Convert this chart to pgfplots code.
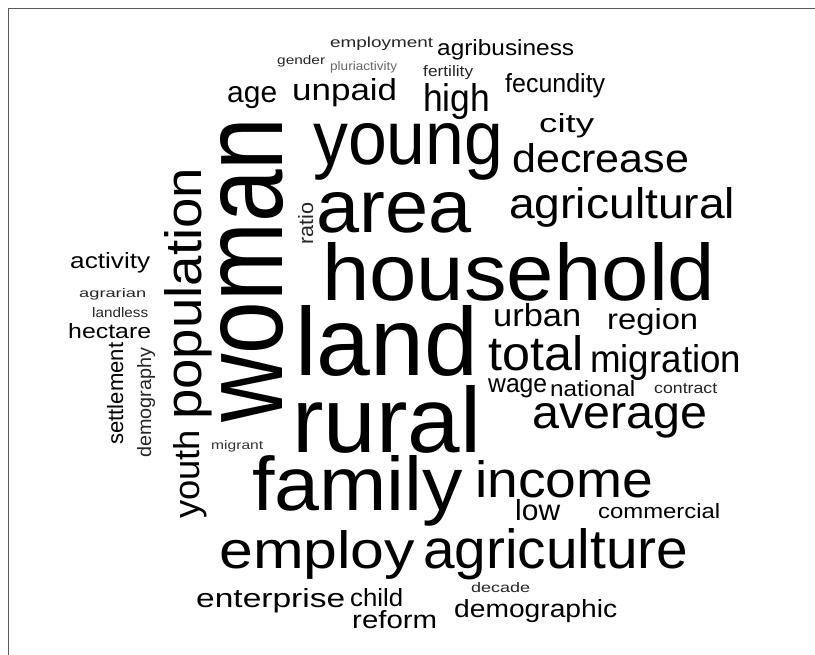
\documentclass[border=0pt]{standalone}
\usepackage{pgfplots}
\pgfplotsset{compat=1.18}
\usepackage{fontspec}
\setmainfont{Liberation Sans}
\usepackage{graphicx}

% word: [colour]{left x}{baseline y}{width}{height above baseline}{text}
\newcommand{\cw}[6][black]{\node[anchor=base west,inner sep=0pt,text=#1] at (axis cs:#2,#3) {\resizebox{#4bp}{#5bp}{#6}};}
% rotated word (reads upwards): [colour]{baseline x}{bottom y}{length}{height}{text}
\newcommand{\cwr}[6][black]{\node[anchor=base west,inner sep=0pt,rotate=90,text=#1] at (axis cs:#2,#3) {\resizebox{#4bp}{#5bp}{#6}};}

\begin{document}
\begin{tikzpicture}
\begin{axis}[
  width=815bp, height=655bp, scale only axis,
  xmin=0, xmax=815, ymin=0, ymax=655,
  y dir=reverse,
  hide axis, clip=false,
]
% frame
\draw[black!65, line width=1bp] (axis cs:8,655) -- (axis cs:8,9) -- (axis cs:815,9);

% large words
\cw{322}{300}{393}{58}{household}
\cw{295}{375}{183}{70}{land}
\cw{292}{452}{189}{67}{rural}
\cw{252}{510}{211}{55}{family}
\cw{313}{164}{190}{41}{young}
\cw{316}{232}{155}{40}{area}
\cw{475}{497}{178}{37}{income}
\cw{219}{568}{196}{38}{employ}
\cw{423}{568}{265}{40}{agriculture}
\cwr{282}{423}{305}{62}{woman}
\cwr{201}{420}{252}{37}{population}
\cwr{199}{519}{89}{26}{youth}

% medium words
\cw{509}{218}{226}{31}{agricultural}
\cw{512}{172}{177}{29}{decrease}
\cw{532}{428}{175}{25}{average}
\cw{488}{370}{95}{35}{total}
\cw{590}{372}{151}{28}{migration}
\cw{493}{326}{88}{23}{urban}
\cw{607}{329}{91}{21}{region}
\cw{423}{111}{67}{28}{high}
\cw{292}{100}{105}{22}{unpaid}
\cw{227}{103}{50}{16}{age}
\cw{539}{132}{55}{19}{city}
\cw{505}{92}{100}{19}{fecundity}
\cw{437}{56}{137}{16}{agribusiness}
\cw{196}{607}{149}{19}{enterprise}
\cw{350}{606}{53}{18}{child}
\cw{352}{628}{85}{18}{reform}
\cw{454}{617}{163}{18}{demographic}
\cw{515}{520}{45}{21}{low}
\cw{598}{518}{122}{15}{commercial}
\cw{550}{396}{85}{16}{national}
\cw{488}{392}{59}{14}{wage}
\cw{70}{268}{80}{16}{activity}
\cw{68}{338}{83}{15}{hectare}
\cwr{123}{445}{102}{16}{settlement}

% small words
\cw[black!85]{330}{47.5}{103}{10.5}{employment}
\cw[black!85]{277}{65}{48}{9}{gender}
\cw[black!60]{330}{71}{67}{9}{pluriactivity}
\cw[black!85]{423}{77}{50}{11}{fertility}
\cw[black!85]{654}{393}{63}{10}{contract}
\cw[black!85]{471}{592}{59}{10}{decade}
\cw[black!80]{211}{449}{52}{9}{migrant}
\cw[black!85]{79}{297}{67}{9}{agrarian}
\cw[black!85]{92}{317}{56}{10}{landless}
\cwr[black!85]{151}{458}{110}{14}{demography}
\cwr[black!85]{313}{245}{42}{15}{ratio}
\end{axis}
\pgfresetboundingbox
\path (current axis.south west) rectangle (current axis.north east);
\end{tikzpicture}
\end{document}
